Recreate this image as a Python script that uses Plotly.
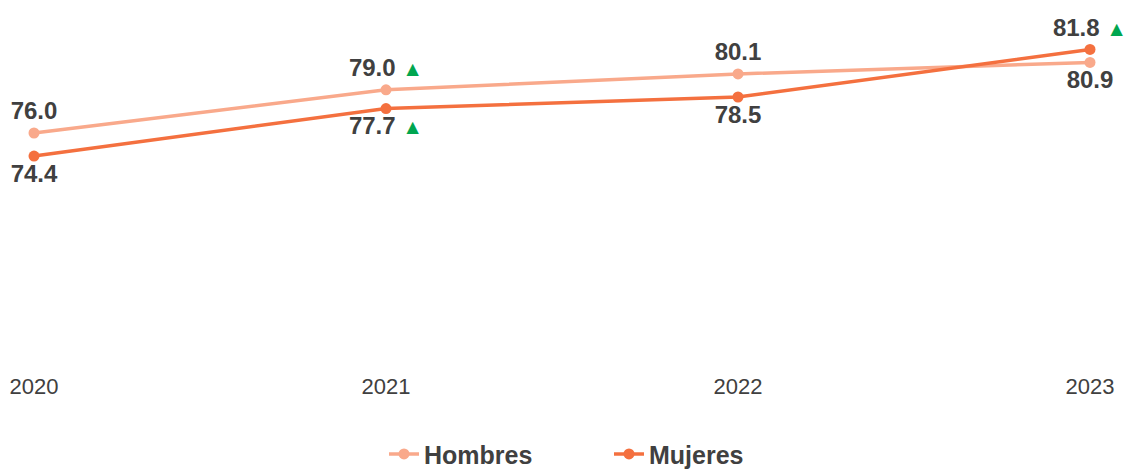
import plotly.graph_objects as go

years = [2020, 2021, 2022, 2023]
year_labels = ["2020", "2021", "2022", "2023"]
hombres = [76.0, 79.0, 80.1, 80.9]
mujeres = [74.4, 77.7, 78.5, 81.8]
hombres_up = [False, True, False, False]
mujeres_up = [False, True, False, True]
hombres_pos = ["top center", "top center", "top center", "bottom center"]
mujeres_pos = ["bottom center", "bottom center", "bottom center", "top center"]

TRI = " <span style='color:#00A650;font-size:21px'>▲</span>"


def labels(vals, ups):
    return [f"{v:.1f}" + (TRI if u else "") for v, u in zip(vals, ups)]


FONT = "Liberation Sans, Arial, sans-serif"
TXT = "#404040"

fig = go.Figure()
fig.add_trace(go.Scatter(
    x=years, y=hombres, name="<b>Hombres</b>", mode="lines+markers+text",
    line=dict(color="#F9A98B", width=3.5), marker=dict(size=11, color="#F9A98B"),
    text=labels(hombres, hombres_up), textposition=hombres_pos,
    textfont=dict(family=FONT, size=24, color=TXT, weight="bold"),
    cliponaxis=False,
))
fig.add_trace(go.Scatter(
    x=years, y=mujeres, name="<b>Mujeres</b>", mode="lines+markers+text",
    line=dict(color="#F4703F", width=3.5), marker=dict(size=11, color="#F4703F"),
    text=labels(mujeres, mujeres_up), textposition=mujeres_pos,
    textfont=dict(family=FONT, size=24, color=TXT, weight="bold"),
    cliponaxis=False,
))

fig.update_layout(
    width=1136, height=462,
    margin=dict(l=0, r=0, t=0, b=107, autoexpand=False),
    paper_bgcolor="white", plot_bgcolor="white",
    font=dict(family=FONT, color=TXT),
    showlegend=True,
    legend=dict(orientation="h", x=601 / 1136, xanchor="center", y=-0.257, yanchor="middle",
                font=dict(family=FONT, size=25, color=TXT), entrywidth=180,
                itemclick=False),
    xaxis=dict(range=[2019.9261, 2023.1534], tickvals=years, ticktext=year_labels,
               showgrid=False, zeroline=False, showline=False, ticks="",
               tickfont=dict(family=FONT, size=22, color=TXT), ticklabelstandoff=8,
               automargin=False),
    yaxis=dict(range=[60.03, 84.68], visible=False, showgrid=False, zeroline=False,
               automargin=False),
)

fig.write_html("out.html")
